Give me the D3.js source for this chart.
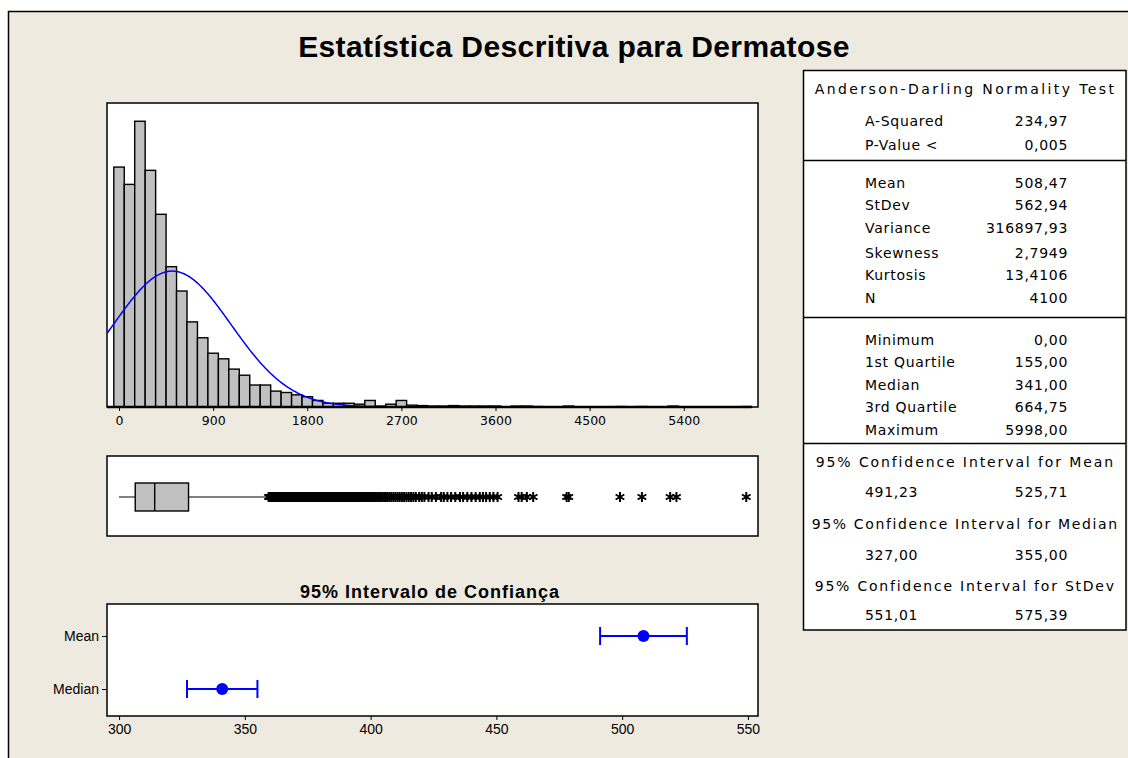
<!DOCTYPE html>
<html>
<head>
<meta charset="utf-8">
<script src="https://cdn.jsdelivr.net/npm/d3@7"></script>
<style>
body { margin: 0; background: #fff; }
svg { display: block; }
.tbl { font-family: "DejaVu Sans", Verdana, sans-serif; font-size: 14px; letter-spacing: 0.7px; fill: #000; }
</style>
</head>
<body>
<div id="chart"></div>
<script>
// histogram: counts per bin of width 100, centred at 0, 100, 200, ...
var binCounts = [513, 476, 611, 506, 412, 300, 248, 182, 148, 115, 103, 81, 68, 47, 47, 34, 31, 26, 22, 14,
    8, 8, 8, 6, 14, 2, 6, 14,
    4, 3, 2, 2, 3, 2, 2, 2, 2, 0, 2, 2, 1, 0, 0, 2, 0, 0, 0, 0, 1, 0, 1, 0, 0, 2, 0, 0, 0, 0, 0, 0, 1];
var histTicks = [0, 900, 1800, 2700, 3600, 4500, 5400];

var sampleMean = 508.47, sampleSd = 562.94, sampleN = 4100;

// boxplot
var boxStats = { low: 0, q1: 155, median: 341, q3: 664.75, high: 1425 };
var outliers = [1430, 1438, 1447, 1455, 1463, 1472, 1480, 1489, 1497, 1506, 1514, 1523, 1531, 1540, 1549, 1557,
    1566, 1575, 1583, 1592, 1601, 1610, 1618, 1627, 1636, 1645, 1654, 1663, 1672, 1681, 1690, 1699, 1708,
    1717, 1726, 1735, 1745, 1754, 1763, 1772, 1782, 1791, 1800, 1810, 1819, 1829, 1838, 1848, 1857, 1867,
    1877, 1886, 1896, 1906, 1916, 1925, 1935, 1945, 1955, 1965, 1975, 1986, 1996, 2006, 2016, 2027, 2037,
    2048, 2058, 2069, 2080, 2090, 2101, 2112, 2123, 2134, 2145, 2156, 2168, 2179, 2190, 2202, 2214, 2226,
    2238, 2250, 2262, 2275, 2287, 2300, 2313, 2326, 2340, 2353, 2367, 2381, 2395, 2410, 2425, 2440, 2455,
    2470, 2486, 2502, 2518, 2535, 2552, 2570, 2588, 2606, 2625, 2644, 2664, 2684, 2705, 2726, 2748, 2770,
    2792, 2815, 2838,
    2870, 2895, 2920, 2960, 2990, 3030, 3080, 3105, 3140, 3175, 3215, 3260, 3290, 3330, 3370, 3410, 3450,
    3480, 3510, 3545, 3580, 3620,
    3820, 3850, 3900, 3960, 4280, 4300, 4790, 5000, 5270, 5330, 5998];

// confidence intervals
var ciNames = ["Mean", "Median"];
var ciEst = [508.47, 341.00];
var ciLo = [491.23, 327.00];
var ciHi = [525.71, 355.00];
var ciTicks = [300, 350, 400, 450, 500, 550];

// summary table
var adLabels = ["A-Squared", "P-Value <"];
var adValues = ["234,97", "0,005"];
var momentLabels = ["Mean", "StDev", "Variance", "Skewness", "Kurtosis", "N"];
var momentValues = ["508,47", "562,94", "316897,93", "2,7949", "13,4106", "4100"];
var quantLabels = ["Minimum", "1st Quartile", "Median", "3rd Quartile", "Maximum"];
var quantValues = ["0,00", "155,00", "341,00", "664,75", "5998,00"];
var ciTitles = ["95% Confidence Interval for Mean", "95% Confidence Interval for Median", "95% Confidence Interval for StDev"];
var ciLowText = ["491,23", "327,00", "551,01"];
var ciHighText = ["525,71", "355,00", "575,39"];

var width = 1128, height = 758;
var bg = "#eeeae0";
var narrow = "'Liberation Sans Narrow', 'Liberation Sans', Arial, sans-serif";

var svg = d3.select("#chart").append("svg").attr("width", width).attr("height", height);

// outer frame
svg.append("rect").attr("x", 8.5).attr("y", 11.5).attr("width", 1200).attr("height", 800)
    .attr("fill", bg).attr("stroke", "#000").attr("stroke-width", 1.5);

svg.append("text").attr("x", 574).attr("y", 57).attr("text-anchor", "middle")
    .style("font-family", "'Liberation Sans', Arial, sans-serif").style("font-weight", "bold")
    .style("font-size", "30px").style("letter-spacing", "0.4px")
    .text("Estatística Descritiva para Dermatose");

// ---------- histogram ----------
var hp = { left: 107, right: 758, top: 103, bottom: 407 };
var x = d3.scaleLinear().domain([-115, 6110]).range([hp.left, hp.right]);
var y = d3.scaleLinear().domain([0, 650]).range([hp.bottom, hp.top]);

svg.append("rect").attr("x", hp.left).attr("y", hp.top).attr("width", hp.right - hp.left).attr("height", hp.bottom - hp.top)
    .attr("fill", "#fff").attr("stroke", "#000").attr("stroke-width", 1.5);

svg.append("clipPath").attr("id", "hclip").append("rect")
    .attr("x", hp.left).attr("y", hp.top).attr("width", hp.right - hp.left).attr("height", hp.bottom - hp.top + 2);

svg.append("g").selectAll("rect").data(binCounts).enter().append("rect")
    .attr("x", function(d, i) { return x(i * 100 - 50); })
    .attr("width", function(d, i) { return x(i * 100 + 50) - x(i * 100 - 50); })
    .attr("y", function(d) { return y(d); })
    .attr("height", function(d) { return y(0) - y(d); })
    .attr("fill", "#c0c0c0").attr("stroke", "#000").attr("stroke-width", 1.4);

// fitted normal curve
var normPts = d3.range(-115, 2590, 10).map(function(v) {
    var z = (v - sampleMean) / sampleSd;
    return [v, sampleN * 100 / (sampleSd * Math.sqrt(2 * Math.PI)) * Math.exp(-0.5 * z * z)];
});
svg.append("path").datum(normPts).attr("clip-path", "url(#hclip)")
    .attr("d", d3.line().x(function(d) { return x(d[0]); }).y(function(d) { return y(d[1]); }))
    .attr("fill", "none").attr("stroke", "#0000ff").attr("stroke-width", 1.5);

var hAxis = svg.append("g").attr("transform", "translate(0," + hp.bottom + ")")
    .call(d3.axisBottom(x).tickValues(histTicks).tickSize(4).tickPadding(5).tickFormat(d3.format("d")));
hAxis.select(".domain").attr("stroke-width", 2.5).attr("d", "M" + hp.left + ",0H" + x(6050));
hAxis.selectAll(".tick text").style("font-family", "'DejaVu Sans', Verdana, sans-serif").style("font-size", "12.5px");

// ---------- boxplot ----------
var bp = { top: 456, bottom: 536, mid: 497 };
svg.append("rect").attr("x", hp.left).attr("y", bp.top).attr("width", hp.right - hp.left).attr("height", bp.bottom - bp.top)
    .attr("fill", "#fff").attr("stroke", "#000").attr("stroke-width", 1.5);
svg.append("line").attr("x1", x(boxStats.low)).attr("x2", x(boxStats.q1)).attr("y1", bp.mid).attr("y2", bp.mid).attr("stroke", "#000");
svg.append("line").attr("x1", x(boxStats.q3)).attr("x2", x(boxStats.high)).attr("y1", bp.mid).attr("y2", bp.mid).attr("stroke", "#000");
svg.append("rect").attr("x", x(boxStats.q1)).attr("y", bp.mid - 14).attr("width", x(boxStats.q3) - x(boxStats.q1)).attr("height", 28)
    .attr("fill", "#c0c0c0").attr("stroke", "#000").attr("stroke-width", 1.4);
svg.append("line").attr("x1", x(boxStats.median)).attr("x2", x(boxStats.median)).attr("y1", bp.mid - 14).attr("y2", bp.mid + 14)
    .attr("stroke", "#000").attr("stroke-width", 1.4);

var star = d3.symbol().type(d3.symbolAsterisk).size(70);
svg.append("g").selectAll("path").data(outliers).enter().append("path")
    .attr("transform", function(d) { return "translate(" + x(d) + "," + bp.mid + ")"; })
    .attr("d", star).attr("fill", "none").attr("stroke", "#000").attr("stroke-width", 2);

// ---------- confidence intervals ----------
var cp = { top: 604, bottom: 716 };
var cx = d3.scaleLinear().domain([295.2, 554]).range([hp.left, hp.right]);
var cy = d3.scalePoint().domain(ciNames).range([636, 689]);

svg.append("text").attr("x", 430).attr("y", 598).attr("text-anchor", "middle")
    .style("font-family", "'Liberation Sans', Arial, sans-serif").style("font-weight", "bold").style("font-size", "18px")
    .style("letter-spacing", "1px")
    .text("95% Intervalo de Confiança");

svg.append("rect").attr("x", hp.left).attr("y", cp.top).attr("width", hp.right - hp.left).attr("height", cp.bottom - cp.top)
    .attr("fill", "#fff").attr("stroke", "#000").attr("stroke-width", 1.5);

var cxAxis = svg.append("g").attr("transform", "translate(0," + cp.bottom + ")")
    .call(d3.axisBottom(cx).tickValues(ciTicks).tickSize(4).tickPadding(4));
cxAxis.select(".domain").remove();
cxAxis.selectAll(".tick text").style("font-size", "14px").style("font-family", narrow);

var cyAxis = svg.append("g").attr("transform", "translate(" + hp.left + ",0)")
    .call(d3.axisLeft(cy).tickSize(5).tickPadding(3));
cyAxis.select(".domain").remove();
cyAxis.selectAll(".tick text").style("font-size", "14px").style("font-family", narrow);

var ci = svg.append("g").selectAll("g").data(ciNames).enter().append("g");
ci.append("line").attr("x1", function(d, i) { return cx(ciLo[i]); }).attr("x2", function(d, i) { return cx(ciHi[i]); })
    .attr("y1", function(d) { return cy(d); }).attr("y2", function(d) { return cy(d); })
    .attr("stroke", "#0000ff").attr("stroke-width", 2);
[ciLo, ciHi].forEach(function(arr) {
    ci.append("line").attr("x1", function(d, i) { return cx(arr[i]); }).attr("x2", function(d, i) { return cx(arr[i]); })
        .attr("y1", function(d) { return cy(d) - 9; }).attr("y2", function(d) { return cy(d) + 9; })
        .attr("stroke", "#0000ff").attr("stroke-width", 2);
});
ci.append("circle").attr("cx", function(d, i) { return cx(ciEst[i]); }).attr("cy", function(d) { return cy(d); })
    .attr("r", 6).attr("fill", "#0000ff");

// ---------- summary table ----------
var tb = { left: 803.5, top: 70.5, right: 1126, bottom: 630 };
var labX = 865, valX = 1068, midX = (tb.left + tb.right) / 2;
svg.append("rect").attr("x", tb.left).attr("y", tb.top).attr("width", tb.right - tb.left).attr("height", tb.bottom - tb.top)
    .attr("fill", "#fff").attr("stroke", "#000").attr("stroke-width", 1.5);
[160, 317, 443].forEach(function(yy) {
    svg.append("line").attr("x1", tb.left).attr("x2", tb.right).attr("y1", yy + 0.5).attr("y2", yy + 0.5)
        .attr("stroke", "#000").attr("stroke-width", 1.5);
});

var tg = svg.append("g").attr("class", "tbl");
function tText(xx, yy, s, anchor, len) {
    var t = tg.append("text").attr("x", xx).attr("y", yy).attr("dy", "0.35em").attr("text-anchor", anchor || "start").text(s);
    if (len) t.attr("textLength", len).attr("lengthAdjust", "spacing");
    return t;
}
tText(midX, 89, "Anderson-Darling Normality Test", "middle", 300);
function block(labels, values, ys) {
    labels.forEach(function(l, i) {
        tText(labX, ys[i], l);
        tText(valX, ys[i], values[i], "end");
    });
}
block(adLabels, adValues, [121, 145]);
block(momentLabels, momentValues, [183, 205, 228, 253, 275, 298]);
block(quantLabels, quantValues, [340, 362, 385, 407, 430]);
var ciTitleY = [462, 524, 586], ciValY = [492, 555, 615];
var ciTitleLen = [298, 306, 300];
ciTitles.forEach(function(t, i) {
    tText(midX, ciTitleY[i], t, "middle", ciTitleLen[i]);
    tText(labX, ciValY[i], ciLowText[i]);
    tText(valX, ciValY[i], ciHighText[i], "end");
});
</script>
</body>
</html>
